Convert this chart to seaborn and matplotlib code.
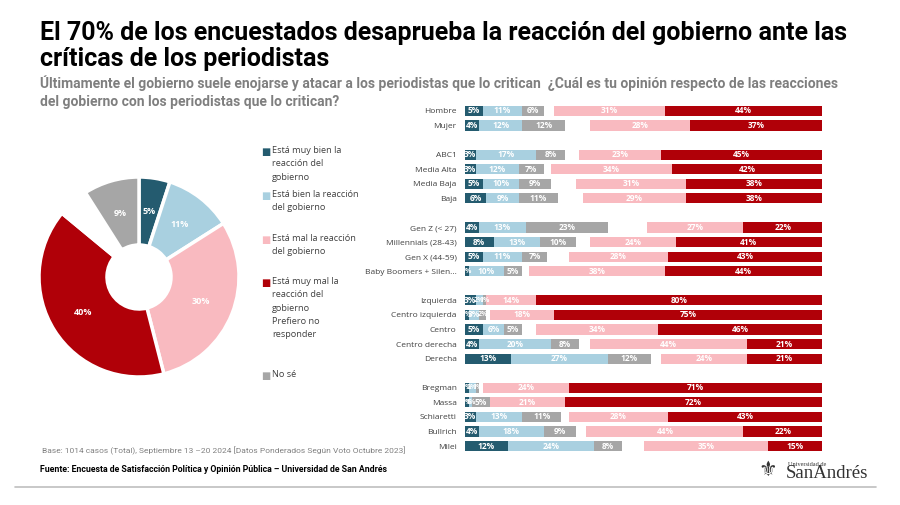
import numpy as np
import pandas as pd
import matplotlib
matplotlib.use('Agg')
import matplotlib.pyplot as plt
import seaborn as sns

sns.set_style('white')
plt.rcParams['font.family'] = ['Open Sans', 'DejaVu Sans']
NARROW = ['Liberation Sans Narrow', 'Roboto', 'DejaVu Sans']

# data
grupos = ['Hombre', 'Mujer',
          'ABC1', 'Media Alta', 'Media Baja', 'Baja',
          'Gen Z (< 27)', 'Millennials (28-43)', 'Gen X (44-59)', 'Baby Boomers + Silen...',
          'Izquierda', 'Centro izquierda', 'Centro', 'Centro derecha', 'Derecha',
          'Bregman', 'Massa', 'Schiaretti', 'Bullrich', 'Milei']
muy_bien = [5, 4, 3, 3, 5, 6, 4, 8, 5, 1, 3, 1, 5, 4, 13, 1, 1, 3, 4, 12]
bien = [11, 12, 17, 12, 10, 9, 13, 13, 11, 10, 2, 3, 6, 20, 27, 2, 1, 13, 18, 24]
no_se = [6, 12, 8, 7, 9, 11, 23, 10, 7, 5, 1, 2, 5, 8, 12, 1, 5, 11, 9, 8]
no_responde = [3, 7, 4, 2, 7, 7, 11, 4, 6, 2, 0, 1, 4, 3, 3, 1, 0, 2, 3, 6]
mal = [31, 28, 23, 34, 31, 29, 27, 24, 28, 38, 14, 18, 34, 44, 24, 24, 21, 28, 44, 35]
muy_mal = [44, 37, 45, 42, 38, 38, 22, 41, 43, 44, 80, 75, 46, 21, 21, 71, 72, 43, 22, 15]

# empty slots between groups
orden = ['Hombre', 'Mujer', ' ',
         'ABC1', 'Media Alta', 'Media Baja', 'Baja', '  ',
         'Gen Z (< 27)', 'Millennials (28-43)', 'Gen X (44-59)', 'Baby Boomers + Silen...', '   ',
         'Izquierda', 'Centro izquierda', 'Centro', 'Centro derecha', 'Derecha', '    ',
         'Bregman', 'Massa', 'Schiaretti', 'Bullrich', 'Milei']

pie_labels = ['Está muy bien la reacción del gobierno', 'Está bien la reacción del gobierno',
              'Está mal la reacción del gobierno', 'Está muy mal la reacción del gobierno',
              'Prefiero no responder', 'No sé']
pie_vals = [5, 11, 30, 40, 5, 9]

C_MB, C_B, C_NS, C_NR, C_M, C_MM = '#245B6F', '#A9D0E0', '#A6A6A6', '#FFFFFF', '#F9BAC0', '#B00008'

df = pd.DataFrame({'grupo': grupos, 'muy_bien': muy_bien, 'bien': bien, 'no_se': no_se,
                   'no_responde': no_responde, 'mal': mal, 'muy_mal': muy_mal})
cols = ['muy_bien', 'bien', 'no_se', 'no_responde', 'mal', 'muy_mal']
colores = [C_MB, C_B, C_NS, C_NR, C_M, C_MM]
cum = df[cols].cumsum(axis=1)
for c in cols:
    df['cum_' + c] = cum[c]

fig = plt.figure(figsize=(9, 5.05), dpi=100)

# stacked bars: draw cumulative totals from widest to narrowest
ax = fig.add_axes([465 / 900, 1 - 453.3 / 505, 357 / 900, 349.6 / 505])
for c, col in reversed(list(zip(cols, colores))):
    sns.barplot(data=df, y='grupo', x='cum_' + c, order=orden, orient='h', color=col,
                saturation=1, width=0.7, errorbar=None, linewidth=0, ax=ax)
ax.set_xlim(0, 100)
ax.set_ylim(23.5, -0.5)
ax.set_xlabel('')
ax.set_ylabel('')
ax.set_xticks([])
ax.tick_params(axis='y', length=0, pad=6, labelsize=6.0, labelcolor='#404040')
sns.despine(ax=ax, left=True, bottom=True)

for _, row in df.iterrows():
    yi = orden.index(row['grupo'])
    prev = 0
    for c in cols:
        v = row[c]
        if v > 0 and c != 'no_responde':
            ax.text(prev + v / 2, yi, f'{v}%', ha='center', va='center', color='white',
                    fontsize=6 if v > 2 else 5, fontweight='bold')
        prev += v

# donut
pax = fig.add_axes([34 / 900, 1 - 382 / 505, 210 / 900, 210 / 505])
wedges, _ = pax.pie(pie_vals, colors=[C_MB, C_B, C_M, C_MM, C_NR, C_NS], startangle=90,
                    counterclock=False, radius=1,
                    wedgeprops=dict(width=0.68, edgecolor='white', linewidth=2.5))
for w, v, lab in zip(wedges, pie_vals, pie_labels):
    if lab == 'Prefiero no responder':
        continue
    th = np.deg2rad((w.theta1 + w.theta2) / 2)
    pax.text(0.665 * np.cos(th), 0.665 * np.sin(th), f'{v}%', ha='center', va='center',
             color='white', fontsize=6.5, fontweight='bold')
pax.set_xlim(-1.05, 1.05)
pax.set_ylim(-1.05, 1.05)
pax.set_aspect('equal')
pax.axis('off')

# legend
leg = [('Está muy bien la\nreacción del\ngobierno', C_MB, 146),
       ('Está bien la reacción\ndel gobierno', C_B, 190),
       ('Está mal la reacción\ndel gobierno', C_M, 234),
       ('Está muy mal la\nreacción del\ngobierno', C_MM, 277),
       ('Prefiero no\nresponder', None, 317),
       ('No sé', C_NS, 370)]
for txt, col, ytop in leg:
    if col is not None:
        fig.text(261 / 900, 1 - (ytop + 6) / 505, '■', color=col, fontsize=7,
                 va='center', ha='left', family='DejaVu Sans')
    fig.text(272 / 900, 1 - ytop / 505, txt, fontsize=6.6, color='#404040', va='top',
             ha='left', linespacing=1.62)

# titles
fig.text(40 / 900, 1 - 21 / 505,
         'El 70% de los encuestados desaprueba la reacción del gobierno ante las\ncríticas de los periodistas',
         fontsize=18, fontweight='bold', color='black', va='top', ha='left',
         family=NARROW, linespacing=1.12)
fig.text(40 / 900, 1 - 75 / 505,
         'Últimamente el gobierno suele enojarse y atacar a los periodistas que lo critican  '
         '¿Cuál es tu opinión respecto de las reacciones\ndel gobierno con los periodistas que lo critican?',
         fontsize=10, fontweight='bold', color='#7F7F7F', va='top', ha='left',
         family=NARROW, linespacing=1.4)

# footer
fig.text(42 / 900, 1 - 451 / 505,
         'Base: 1014 casos (Total), Septiembre 13 –20 2024 [Datos Ponderados Según Voto Octubre 2023]',
         fontsize=6.0, color='#808080', va='center', ha='left', family=NARROW)
fig.text(40 / 900, 1 - 470 / 505,
         'Fuente: Encuesta de Satisfacción Política y Opinión Pública – Universidad de San Andrés',
         fontsize=6.3, fontweight='bold', color='black', va='center', ha='left', family=NARROW)
fig.add_artist(plt.Line2D([15 / 900, 876 / 900], [1 - 487 / 505, 1 - 487 / 505],
                          color='#BFBFBF', linewidth=1.2))
fig.text(788 / 900, 1 - 464 / 505, 'Universidad de', fontsize=4.5, color='#333333',
         va='center', ha='left', family='Liberation Serif')
fig.text(786 / 900, 1 - 474 / 505, 'SanAndrés', fontsize=13.5, color='#333333',
         va='center', ha='left', family='Liberation Serif')
fig.text(768 / 900, 1 - 470 / 505, '⚜', fontsize=15, color='#333333',
         va='center', ha='center', family='DejaVu Sans')

fig.savefig('out.png', dpi=100)
